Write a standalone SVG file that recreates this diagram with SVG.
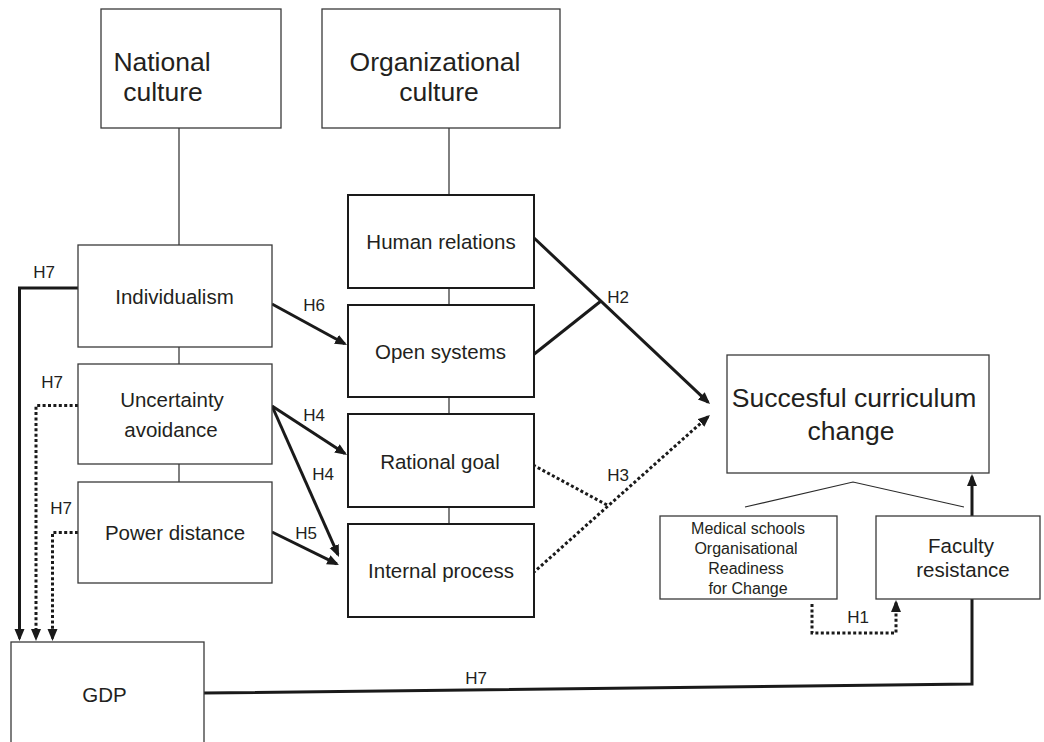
<svg xmlns="http://www.w3.org/2000/svg" width="1044" height="742" viewBox="0 0 1044 742">
<defs>
<style>
text{font-family:"Liberation Sans",Arial,sans-serif;fill:#231f20;text-anchor:middle}
.big{font-size:26.5px}
.mid{font-size:20.5px}
.sm{font-size:16px}
.lab{font-size:17px}
.box{fill:#fff;stroke:#3a3a3a;stroke-width:1.3}
.boxb{fill:#fff;stroke:#1a1a1a;stroke-width:2}
.thin{fill:none;stroke:#2a2a2a;stroke-width:1.2}
.solid{fill:none;stroke:#1a1a1a;stroke-width:3}
.dot{fill:none;stroke:#1a1a1a;stroke-width:3;stroke-dasharray:3 2.4}
</style>
<marker id="ah" markerUnits="userSpaceOnUse" markerWidth="14" markerHeight="12" refX="9.5" refY="5" orient="auto">
<path d="M0,0 L12,5 L0,10 z" fill="#1a1a1a"/>
</marker>
</defs>
<rect width="1044" height="742" fill="#fff"/>
<g id="connectors">
<line class="thin" x1="179" y1="128" x2="179" y2="245"/>
<line class="thin" x1="449" y1="128" x2="449" y2="195"/>
<line class="thin" x1="179" y1="347" x2="179" y2="364"/>
<line class="thin" x1="179" y1="464" x2="179" y2="482"/>
<line class="thin" x1="449" y1="288" x2="449" y2="305"/>
<line class="thin" x1="449" y1="397" x2="449" y2="414"/>
<line class="thin" x1="449" y1="507" x2="449" y2="524"/>
<polyline class="thin" points="745,507 853,482 964,507"/>
<polyline class="solid" points="78,288 19.5,288 19.5,638.5" marker-end="url(#ah)"/>
<polyline class="dot" points="78,405.5 36,405.5 36,638.5" marker-end="url(#ah)"/>
<polyline class="dot" points="78,532.5 52.5,532.5 52.5,638.5" marker-end="url(#ah)"/>
<line class="solid" x1="272" y1="304" x2="344.8" y2="343.8" marker-end="url(#ah)"/>
<line class="solid" x1="272" y1="406" x2="344.9" y2="453.6" marker-end="url(#ah)"/>
<line class="solid" x1="272" y1="406" x2="338" y2="554.7" marker-end="url(#ah)"/>
<line class="solid" x1="272" y1="532" x2="336.8" y2="563.9" marker-end="url(#ah)"/>
<line class="solid" x1="533" y1="237" x2="708.2" y2="402.3" marker-end="url(#ah)"/>
<line class="solid" x1="533" y1="355" x2="601" y2="301"/>
<line class="dot" x1="533" y1="465" x2="607" y2="505"/>
<line class="dot" x1="533" y1="573" x2="708.1" y2="416.6" marker-end="url(#ah)"/>
<polyline class="solid" points="204,693 972,684 972,476.5" marker-end="url(#ah)"/>
<polyline class="dot" points="812,604 812,633 896,633 896,602.5" marker-end="url(#ah)"/>
<text class="lab" x="44" y="278">H7</text>
<text class="lab" x="52" y="388">H7</text>
<text class="lab" x="61" y="514">H7</text>
<text class="lab" x="314" y="311">H6</text>
<text class="lab" x="314" y="421">H4</text>
<text class="lab" x="323" y="480">H4</text>
<text class="lab" x="306" y="539">H5</text>
<text class="lab" x="618" y="303">H2</text>
<text class="lab" x="618" y="481">H3</text>
<text class="lab" x="476" y="684">H7</text>
<text class="lab" x="858" y="623">H1</text>
</g>
<g id="national-culture">
<rect class="box" x="101" y="9" width="180" height="119"/>
<text class="big" x="162" y="71">National</text>
<text class="big" x="163" y="101">culture</text>
</g>
<g id="organizational-culture">
<rect class="box" x="322" y="9" width="238" height="119"/>
<text class="big" x="435" y="71">Organizational</text>
<text class="big" x="439" y="101">culture</text>
</g>
<g id="individualism">
<rect class="box" x="78" y="245" width="194" height="102"/>
<text class="mid" x="174.5" y="304">Individualism</text>
</g>
<g id="uncertainty-avoidance">
<rect class="box" x="78" y="364" width="194" height="100"/>
<text class="mid" x="172" y="407">Uncertainty</text>
<text class="mid" x="171" y="437">avoidance</text>
</g>
<g id="power-distance">
<rect class="box" x="78" y="482" width="194" height="101"/>
<text class="mid" x="175" y="540">Power distance</text>
</g>
<g id="human-relations">
<rect class="boxb" x="348" y="195" width="186" height="93"/>
<text class="mid" x="441" y="249">Human relations</text>
</g>
<g id="open-systems">
<rect class="boxb" x="348" y="305" width="186" height="92"/>
<text class="mid" x="440.5" y="359">Open systems</text>
</g>
<g id="rational-goal">
<rect class="boxb" x="348" y="414" width="186" height="93"/>
<text class="mid" x="440" y="469">Rational goal</text>
</g>
<g id="internal-process">
<rect class="boxb" x="348" y="524" width="186" height="93"/>
<text class="mid" x="441" y="578">Internal process</text>
</g>
<g id="successful-curriculum-change">
<rect class="box" x="727" y="355" width="262" height="118"/>
<text class="big" x="854" y="407">Succesful curriculum</text>
<text class="big" x="851" y="440">change</text>
</g>
<g id="medical-schools-readiness">
<rect class="box" x="660" y="516" width="177" height="83"/>
<text class="sm" x="748" y="534">Medical schools</text>
<text class="sm" x="746" y="554">Organisational</text>
<text class="sm" x="746" y="574">Readiness</text>
<text class="sm" x="748" y="594">for Change</text>
</g>
<g id="faculty-resistance">
<rect class="box" x="876" y="516" width="164" height="83"/>
<text class="mid" x="961" y="553">Faculty</text>
<text class="mid" x="963" y="577">resistance</text>
</g>
<g id="gdp">
<rect class="box" x="11" y="642" width="193" height="120"/>
<text class="mid" x="104.5" y="702">GDP</text>
</g>
</svg>
